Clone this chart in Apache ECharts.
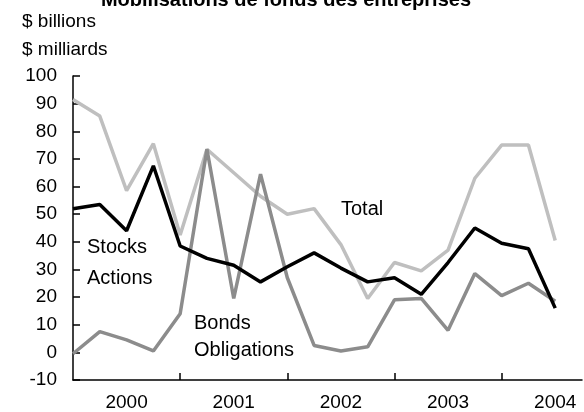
<!DOCTYPE html>
<html>
<head>
<meta charset="utf-8">
<script src="https://cdn.jsdelivr.net/npm/echarts@6/dist/echarts.min.js"></script>
<style>
    html, body { margin: 0; padding: 0; background: #fff; }
    #chart { width: 584px; height: 412px; }
</style>
</head>
<body>
<div id="chart"></div>
<script>
// quarterly data, 2000 Q1 .. 2004 Q3
const years = [2000, 2001, 2002, 2003, 2004];
const totalValues = [91.5, 85.5, 58.5, 75.5, 42.5, 73.5, 65, 56.5, 50, 52, 39, 19.5, 32.5, 29.5, 37, 63, 75, 75, 40.5];
const stocksValues = [52, 53.5, 44, 67.5, 38.5, 34, 31.5, 25.5, 31, 36, 30.5, 25.5, 27, 21, 32.5, 45, 39.5, 37.5, 16];
const bondsValues = [-0.5, 7.5, 4.5, 0.5, 14, 73.5, 19.5, 64.5, 27, 2.5, 0.5, 2, 19, 19.5, 8, 28.5, 20.5, 25, 18.5];

const FONT = '"Liberation Sans", Arial, Helvetica, sans-serif';

function toPoints(values) {
    return values.map((v, i) => [i, v]);
}

const chart = echarts.init(document.getElementById("chart"));

chart.setOption({
    animation: false,
    backgroundColor: "#fff",
    textStyle: { fontFamily: FONT, color: "#000" },
    grid: {
        left: 73,
        right: 2,
        top: 76,
        bottom: 32
    },
    xAxis: {
        type: "value",
        min: 0,
        max: 19,
        axisLine: { onZero: false, lineStyle: { color: "#000", width: 1.5 } },
        axisTick: {
            inside: true,
            length: 7,
            customValues: [4, 8, 12, 16],
            lineStyle: { color: "#000", width: 1.5 }
        },
        axisLabel: {
            customValues: years.map((y, i) => 2 + i * 4),
            formatter: v => String(years[(v - 2) / 4]),
            fontSize: 19,
            fontFamily: FONT,
            color: "#000",
            margin: 13
        },
        splitLine: { show: false }
    },
    yAxis: {
        type: "value",
        min: -10,
        max: 100,
        interval: 10,
        axisLine: { show: true, onZero: false, lineStyle: { color: "#000", width: 1.5 } },
        axisTick: {
            show: true,
            inside: true,
            length: 7,
            lineStyle: { color: "#000", width: 1.5 }
        },
        axisLabel: {
            fontSize: 19,
            fontFamily: FONT,
            color: "#000",
            margin: 16
        },
        splitLine: { show: false }
    },
    graphic: [
        {
            type: "text",
            x: 286, y: 0,
            style: {
                text: "Mobilisations de fonds des entreprises",
                font: "bold 20px " + FONT,
                fill: "#000",
                align: "center",
                verticalAlign: "middle"
            }
        },
        { type: "text", x: 22, y: 22, style: { text: "$ billions", font: "19px " + FONT, fill: "#000", verticalAlign: "middle" } },
        { type: "text", x: 22, y: 50, style: { text: "$ milliards", font: "19px " + FONT, fill: "#000", verticalAlign: "middle" } },
        { type: "text", x: 87, y: 247, style: { text: "Stocks", font: "20px " + FONT, fill: "#000", verticalAlign: "middle" } },
        { type: "text", x: 87, y: 278, style: { text: "Actions", font: "20px " + FONT, fill: "#000", verticalAlign: "middle" } },
        { type: "text", x: 341, y: 209, style: { text: "Total", font: "20px " + FONT, fill: "#000", verticalAlign: "middle" } },
        { type: "text", x: 194, y: 323, style: { text: "Bonds", font: "20px " + FONT, fill: "#000", verticalAlign: "middle" } },
        { type: "text", x: 194, y: 350, style: { text: "Obligations", font: "20px " + FONT, fill: "#000", verticalAlign: "middle" } }
    ],
    series: [
        {
            name: "Total",
            type: "line",
            data: toPoints(totalValues),
            symbol: "none",
            lineStyle: { color: "#bfbfbf", width: 3.5 },
            z: 2
        },
        {
            name: "Bonds",
            type: "line",
            data: toPoints(bondsValues),
            symbol: "none",
            lineStyle: { color: "#8c8c8c", width: 3.5 },
            z: 3
        },
        {
            name: "Stocks",
            type: "line",
            data: toPoints(stocksValues),
            symbol: "none",
            lineStyle: { color: "#000", width: 3.5 },
            z: 4
        }
    ]
});
</script>
</body>
</html>
